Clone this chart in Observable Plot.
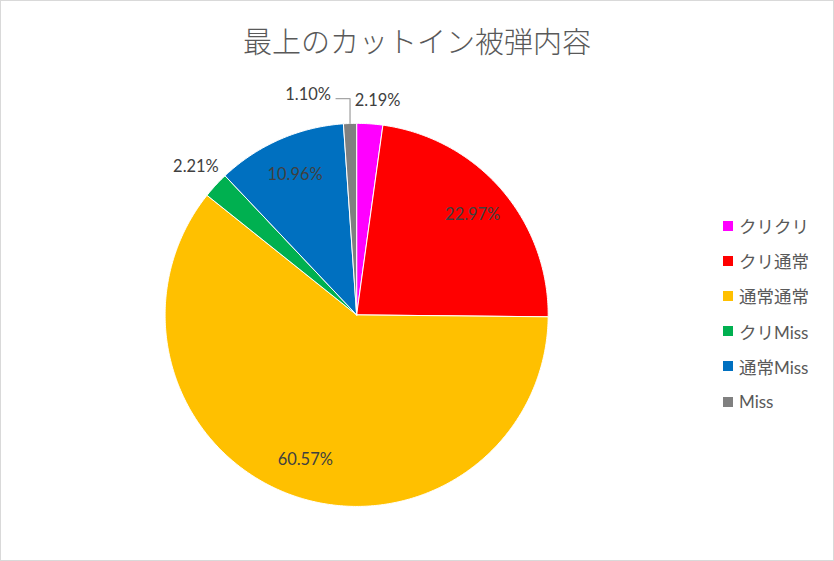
<!DOCTYPE html>
<html><head><meta charset="utf-8">
<script src="https://cdn.jsdelivr.net/npm/d3@7"></script>
<script src="https://cdn.jsdelivr.net/npm/@observablehq/plot@0.6"></script>
<style>
body{margin:0;background:#fff;}
#chart{position:relative;width:834px;height:561px;box-sizing:border-box;border:1px solid #D9D9D9;background:#fff;overflow:hidden;}
#title{position:absolute;left:0;top:25px;width:832px;text-align:center;font-family:"Noto Sans CJK JP";font-size:29px;line-height:29px;color:#595959;font-weight:300;}
#plot{position:absolute;left:0;top:64px;}
#legend{position:absolute;left:722px;top:207px;font-family:Lato,"Noto Sans CJK JP";font-size:17px;color:#595959;}
.item{height:35.2px;display:flex;align-items:center;white-space:nowrap;}
.sw{width:10px;height:10px;margin-right:6px;flex:none;}
.jp{font-family:"Noto Sans CJK JP";font-size:17.5px;}
</style></head>
<body>
<div id="chart">
  <div id="title">最上のカットイン被弾内容</div>
  <div id="plot"></div>
  <div id="legend"></div>
</div>
<script>
const categories = ["クリクリ","クリ通常","通常通常","クリMiss","通常Miss","Miss"];
const shares = [2.19, 22.97, 60.57, 2.21, 10.96, 1.10];
const labels = ["2.19%","22.97%","60.57%","2.21%","10.96%","1.10%"];
const colors = ["#FF00FF","#FF0000","#FFC000","#00B050","#0070C0","#808080"];

const total = d3.sum(shares);
const arcs = d3.pie().sort(null).value(d => d)(shares);

// slice polygons (unit radius, y up)
const pts = [];
arcs.forEach((p, i) => {
  const n = Math.max(2, Math.ceil((p.endAngle - p.startAngle) / (Math.PI / 360)));
  pts.push({cat: categories[i], x: 0, y: 0});
  for (let k = 0; k <= n; k++) {
    const a = p.startAngle + (p.endAngle - p.startAngle) * k / n;
    pts.push({cat: categories[i], x: Math.sin(a), y: Math.cos(a)});
  }
  pts.push({cat: categories[i], x: 0, y: 0});
});

// data labels
const unitPx = 192;
const lab = arcs.map((p, i) => {
  const mid = (p.startAngle + p.endAngle) / 2;
  const inside = shares[i] / total > 0.05;
  const r = inside ? 0.8 : 1.14;
  return {text: labels[i], x: r * Math.sin(mid), y: r * Math.cos(mid), mid, inside, i};
});
// resolve overlap of outside labels near the top: move the later one left with a leader
const leader = [];
const outs = lab.filter(d => !d.inside);
const halfW = 24 / unitPx;
outs.forEach(d => {
  outs.forEach(o => {
    if (o !== d && d.i > o.i && Math.abs(d.x - o.x) < 2 * halfW && Math.abs(d.y - o.y) < 0.1) {
      const ex = Math.sin(d.mid), ey = Math.cos(d.mid);
      const kneeY = d.y - 2 / unitPx;
      const endX = ex - 14 / unitPx;
      d.x = endX - 4 / unitPx - halfW;
      d.y = kneeY + 4 / unitPx;
      o.x += 6 / unitPx;
      o.y -= 4 / unitPx;
      leader.push({x: ex, y: ey}, {x: ex, y: kneeY}, {x: endX, y: kneeY});
    }
  });
});

const W = 834, H = 496, cx = 356, cy = 250;
const plot = Plot.plot({
  width: W, height: H, margin: 0,
  x: {domain: [-cx / unitPx, (W - cx) / unitPx], axis: null},
  y: {domain: [-(H - cy) / unitPx, cy / unitPx], axis: null},
  color: {domain: categories, range: colors},
  style: {background: "transparent"},
  marks: [
    Plot.line(pts, {x: "x", y: "y", z: "cat", fill: "cat", stroke: "white", strokeWidth: 1, strokeLinejoin: "round"}),
    Plot.line(leader, {x: "x", y: "y", stroke: "#A6A6A6", strokeWidth: 1.3}),
    Plot.text(lab, {x: "x", y: "y", text: "text", fontSize: 16.5, fill: "#404040", fontFamily: "Lato"})
  ]
});
document.getElementById("plot").appendChild(plot);

const legend = document.getElementById("legend");
categories.forEach((c, i) => {
  const it = document.createElement("div");
  it.className = "item";
  const html = c.replace(/[^\x00-\x7F]+/g, m => `<span class="jp">${m}</span>`);
  it.innerHTML = `<div class="sw" style="background:${colors[i]}"></div><span>${html}</span>`;
  legend.appendChild(it);
});
</script>
</body></html>
